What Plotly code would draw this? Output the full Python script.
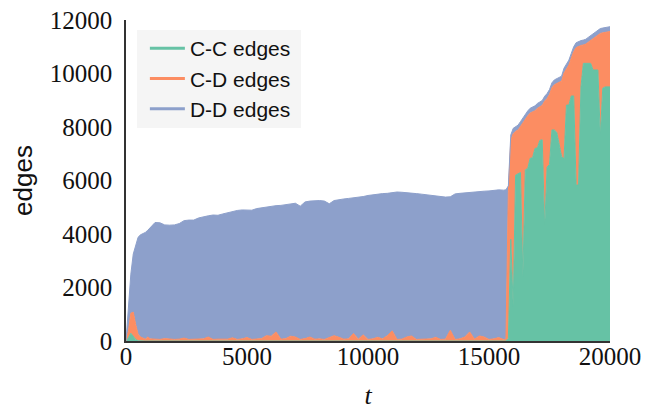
import plotly.graph_objects as go

# time steps
t = [0, 100, 200, 300, 400, 500, 600, 700, 800, 900, 1000,
     1200, 1400, 1600, 1800, 2000, 2200, 2400, 2600, 2800, 3000,
     3200, 3400, 3600, 3800, 4000, 4200, 4400, 4600, 4800, 5000,
     5200, 5400, 5600, 5800, 6000, 6200, 6400, 6600, 6800, 7000,
     7200, 7400, 7600, 7800, 8000, 8200, 8400, 8600, 8800, 9000,
     9200, 9400, 9600, 9800, 10000, 10200, 10400, 10600, 10800, 11000,
     11200, 11400, 11600, 11800, 12000, 12200, 12400, 12600, 12800, 13000,
     13200, 13400, 13600, 13800, 14000, 14200, 14400, 14600, 14800, 15000,
     15200, 15400, 15600, 15700, 15800, 15900, 16000, 16100, 16200, 16300,
     16400, 16500, 16600, 16700, 16800, 16900, 17000, 17100, 17200, 17300,
     17400, 17500, 17600, 17700, 17800, 17900, 18000, 18100, 18200, 18300,
     18400, 18500, 18600, 18700, 18800, 18900, 19000, 19100, 19200, 19300,
     19400, 19500, 19600, 19700, 19800, 19900, 20000]

# C-C edges
cc = [0, 120, 290, 180, 60, 10, 0, 0, 0, 0, 0,
      0, 0, 0, 0, 0, 0, 0, 0, 0, 0,
      0, 0, 0, 0, 0, 0, 0, 0, 0, 0,
      0, 0, 0, 0, 0, 0, 0, 0, 0, 0,
      0, 0, 0, 0, 0, 0, 0, 0, 0, 0,
      0, 0, 0, 0, 0, 0, 0, 0, 0, 0,
      0, 0, 0, 0, 0, 0, 0, 0, 0, 0,
      0, 0, 0, 0, 0, 0, 0, 0, 0, 0,
      0, 0, 0, 0, 100, 3800, 1300, 6200, 6250, 6300,
      2400, 6400, 6450, 6830, 6850, 7200, 7220, 7500, 7520, 4200,
      6500, 6600, 7890, 7890, 7800, 7400, 6900, 6800, 8820, 8820,
      9160, 9160, 5830, 5830, 9500, 10380, 10380, 10380, 10380, 10130,
      10130, 10130, 7640, 9450, 9500, 9500, 9500]

# C-D edges
cd = [0, 250, 750, 900, 560, 240, 150, 100, 70, 150, 80,
      70, 60, 90, 70, 60, 70, 110, 60, 70, 60,
      80, 150, 60, 70, 60, 70, 120, 60, 80, 130,
      60, 70, 90, 200, 180, 340, 70, 90, 180, 150,
      60, 90, 150, 70, 80, 60, 140, 200, 140, 70,
      80, 280, 70, 230, 60, 80, 140, 80, 200, 380,
      60, 70, 150, 190, 60, 70, 60, 80, 140, 60,
      70, 400, 60, 80, 150, 340, 70, 190, 150, 60,
      80, 130, 60, 60, 5500, 3700, 6450, 1640, 1640, 1720,
      5770, 1920, 1970, 1690, 1720, 1410, 1480, 1250, 1290, 4770,
      2570, 2620, 1580, 1690, 1820, 2250, 2820, 3220, 1350, 1500,
      1410, 1660, 5140, 5190, 1550, 690, 720, 790, 860, 1170,
      1240, 1310, 3860, 2070, 2040, 2060, 2070]

# D-D edges
dd = [0, 930, 1460, 2170, 2980, 3630, 3820, 3910, 3990, 3990, 4170,
      4360, 4360, 4250, 4260, 4280, 4320, 4390, 4460, 4450, 4540,
      4570, 4530, 4650, 4630, 4690, 4720, 4730, 4820, 4820, 4770,
      4830, 4880, 4890, 4800, 4860, 4720, 5000, 5000, 4940, 5000,
      4980, 5110, 5080, 5170, 5170, 5170, 4990, 5050, 5150, 5240,
      5250, 5070, 5310, 5170, 5380, 5390, 5350, 5430, 5320, 5170,
      5510, 5490, 5400, 5350, 5450, 5420, 5410, 5360, 5290, 5350,
      5310, 4990, 5440, 5440, 5390, 5220, 5510, 5400, 5450, 5550,
      5560, 5520, 5580, 5590, 200, 200, 200, 180, 180, 180,
      180, 180, 180, 180, 180, 180, 180, 180, 180, 180,
      180, 180, 180, 180, 180, 180, 180, 180, 180, 180,
      180, 180, 180, 180, 180, 180, 180, 180, 180, 180,
      180, 180, 180, 180, 180, 180, 180]

series_names = ["C-C edges", "C-D edges", "D-D edges"]
colors = ["#66c2a5", "#fc8d62", "#8da0cb"]

fig = go.Figure()
for name, vals, col in zip(series_names, [cc, cd, dd], colors):
    fig.add_trace(go.Scatter(
        x=t, y=vals, name=name, mode="lines", stackgroup="one",
        line=dict(color=col, width=1), fillcolor=col, showlegend=False,
        hoverinfo="skip"))
# legend entries drawn as lines
for name, col in zip(series_names, colors):
    fig.add_trace(go.Scatter(
        x=[None], y=[None], name=name, mode="lines",
        line=dict(color=col, width=3), showlegend=True))

serif = "Liberation Serif, Times New Roman, serif"
sans = "Liberation Sans, Arial, sans-serif"

# the page body adds an 8px margin, so the figure is sized 8px smaller
fig.update_layout(
    width=649, height=402,
    margin=dict(l=118, r=47, t=12, b=69),
    paper_bgcolor="white", plot_bgcolor="white",
    showlegend=True,
    legend=dict(
        x=0.039, y=0.975, xanchor="left", yanchor="top",
        bgcolor="rgba(0,0,0,0)", borderwidth=0,
        font=dict(family=sans, size=21, color="#111111"),
        traceorder="normal", itemwidth=35,
    ),
    shapes=[dict(type="rect", xref="paper", yref="paper",
                 x0=0.0227, x1=0.3616, y0=0.6636, y1=0.9688,
                 fillcolor="#f5f5f5", line=dict(width=0), layer="above")],
    xaxis=dict(
        range=[0, 20000], showgrid=False, zeroline=False, automargin=False,
        showline=True, linecolor="#333333", linewidth=1.5,
        ticks="", ticklabelstandoff=-8,
        tickvals=[0, 5000, 10000, 15000, 20000], tickformat="d",
        tickfont=dict(family=serif, size=25, color="#111111"),
        title=dict(text="<i>t</i>", font=dict(family=serif, size=26, color="#111111"),
                   standoff=26),
    ),
    yaxis=dict(
        range=[0, 12000], showgrid=False, zeroline=False, automargin=False,
        showline=True, linecolor="#333333", linewidth=1.5,
        ticks="outside", ticklen=7, tickcolor="rgba(0,0,0,0)",
        ticklabeloverflow="allow",
        tickvals=[0, 2000, 4000, 6000, 8000, 10000, 12000], tickformat="d",
        tickfont=dict(family=serif, size=25, color="#111111"),
        title=dict(text="edges", font=dict(family=sans, size=26, color="#111111"),
                   standoff=14),
    ),
)

fig.write_html("out.html")
